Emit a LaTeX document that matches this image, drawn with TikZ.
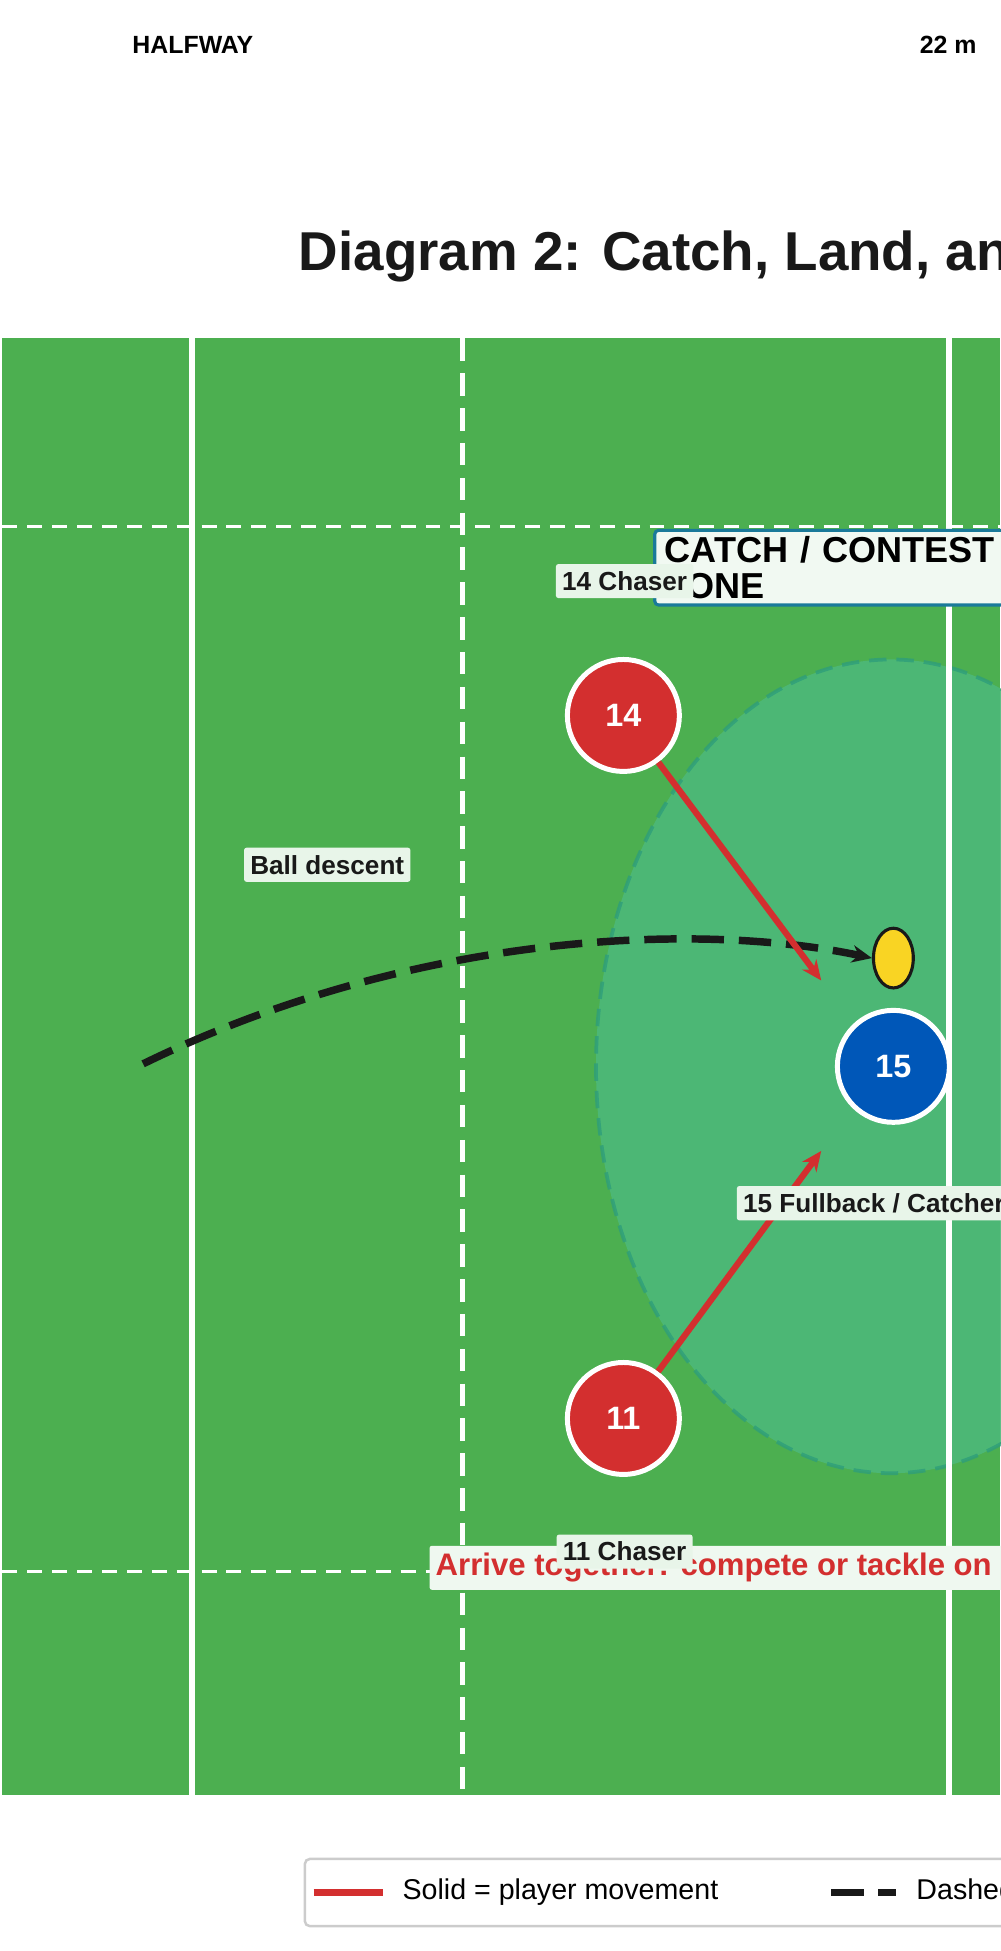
\documentclass[tikz,border=0pt]{standalone}
\usepackage{fontspec}
\setmainfont{Liberation Sans}
\usetikzlibrary{arrows.meta,shapes.geometric}
\definecolor{pitch}{HTML}{4CAF50}
\definecolor{zone}{HTML}{4DB87A}
\definecolor{zoneline}{HTML}{2E9E7A}
\definecolor{chaser}{HTML}{D32F2F}
\definecolor{fullback}{HTML}{0057B8}
\definecolor{ballc}{HTML}{F9D423}
\definecolor{tag}{HTML}{E8F5E9}
\definecolor{boxline}{HTML}{1A7A9A}
\newcommand{\fsz}[1]{\fontsize{#1}{#1}\selectfont\bfseries}
\tikzset{
  player/.style={circle, draw=white, line width=4, minimum size=90, inner sep=0,
    text=white, font=\fsz{26}},
  tag/.style={fill=tag, rounded corners=2, inner xsep=5, inner ysep=6, font=\fsz{21}, text=black!90},
  move/.style={chaser, line width=5, -{Stealth[length=16,width=14]}},
  pitchline/.style={white, line width=5},
}
\begin{document}
\begin{tikzpicture}[x=1pt, y=-1pt]
  \useasboundingbox (0,0) rectangle (804,1568);
  \node[font=\fsz{20}] (half) at (155,36) {HALFWAY};
  \node[font=\fsz{20}] (twentytwo) at (762,36) {22 m};
  \node[anchor=west, font=\fsz{44}, text=black!90, inner sep=0] (title) at (240,206) {Diagram 2: Catch, Land, and Contest};
  % pitch
  \fill[pitch] (2,272) rectangle (804,1443);
  % contest zone
  \fill[zone, opacity=.9] (716,857) ellipse [x radius=237, y radius=327];
  \draw[zoneline, line width=3, dash pattern=on 14 off 8, opacity=.8] (716,857) ellipse [x radius=237, y radius=327];
  \draw[pitchline] (154,272) -- (154,1443);
  \draw[pitchline] (763,272) -- (763,1443);
  \draw[pitchline, line width=4, dash pattern=on 18 off 10] (372,272) -- (372,1443);
  \draw[white, line width=2, dash pattern=on 12 off 8] (2,423) -- (804,423);
  \draw[white, line width=2, dash pattern=on 12 off 8] (2,1263) -- (804,1263);
  \node[anchor=north west, draw=boxline, line width=2.5, fill=tag!60!white, rounded corners=3,
    minimum height=60, text width=330, inner xsep=8, font=\fsz{29}] (zonebox) at (525,425) {CATCH / CONTEST ZONE};
  % players
  \node[player, fill=chaser] (p14) at (501,575) {14};
  \node[player, fill=chaser] (p11) at (501,1140) {11};
  \node[player, fill=fullback] (p15) at (718,857) {15};
  \node[ellipse, draw=black!90, line width=2.5, fill=ballc, minimum width=32, minimum height=48, inner sep=0] (ball) at (718,770) {};
  % ball flight
  \coordinate (kick) at (115,855);
  \draw[black!90, line width=6, dash pattern=on 26 off 12, -{Stealth[length=16,width=14]}]
    (kick) .. controls (330,750) and (560,740) .. (ball.west);
  \coordinate (m14) at (660,788);
  \coordinate (m11) at (660,925);
  \draw[move] (p14) -- (m14);
  \draw[move] (p11) -- (m11);
  % labels
  \node[tag] (lball) at (263,695) {Ball descent};
  \node[tag] (l14) at (502,467) {14 Chaser};
  \node[tag, anchor=west] (l15) at (592,967) {15 Fullback / Catcher};
  \node[tag, anchor=west, text=chaser, fill=tag!70!white, font=\fsz{25}] (note) at (345,1260) {Arrive together: compete or tackle on landing};
  \node[tag] (l11) at (502,1247) {11 Chaser};
  % legend
  \draw[black!20, line width=2, fill=white, rounded corners=4] (245,1494) rectangle (860,1548);
  \draw[chaser, line width=6] (252,1521) -- (308,1521);
  \node[anchor=west, font=\fontsize{23}{23}\selectfont] (lsolid) at (320,1521) {Solid = player movement};
  \draw[black!90, line width=6, dash pattern=on 26 off 12] (668,1521) -- (720,1521);
  \node[anchor=west, font=\fontsize{23}{23}\selectfont] (ldash) at (733,1521) {Dashed = ball flight};
\end{tikzpicture}
\end{document}
